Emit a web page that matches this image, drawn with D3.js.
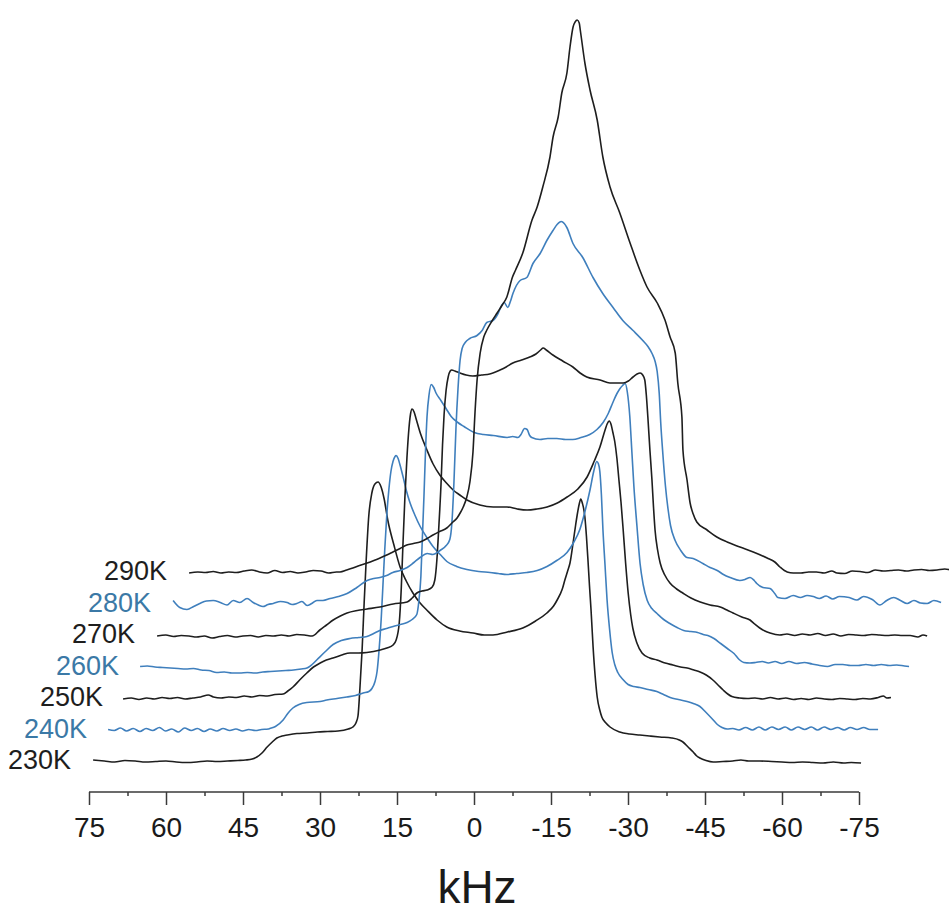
<!DOCTYPE html>
<html>
<head>
<meta charset="utf-8">
<script src="https://cdn.jsdelivr.net/npm/d3@7"></script>
<style>
  html, body { margin: 0; padding: 0; background: #fff; }
  svg { display: block; }
  text { font-family: "Liberation Sans", Arial, Helvetica, sans-serif; }
</style>
</head>
<body>
<svg id="chart" width="949" height="914"></svg>
<script>
// Temperature series (bottom to top) and their colours
const temps = ["230K", "240K", "250K", "260K", "270K", "280K", "290K"];
const colors = ["#1e1e1e", "#3f7fbd", "#1e1e1e", "#3f7fbd", "#1e1e1e", "#3f7fbd", "#1e1e1e"];
const labelColors = ["#1e1e1e", "#3b79a6", "#1e1e1e", "#3b79a6", "#1e1e1e", "#3b79a6", "#1e1e1e"];

// Axis tick values (kHz)
const majorTicks = [75, 60, 45, 30, 15, 0, -15, -30, -45, -60, -75];
const minorTicks = [67.5, 52.5, 37.5, 22.5, 7.5, -7.5, -22.5, -37.5, -52.5, -67.5];

// 2H NMR spectra: [frequency (kHz), intensity (a.u.)]
const s230 = [[74.2,1],[72,0],[70,-1],[68,0.5],[66,0],[64,-1],[62,-0.5],[60,0],[58,-1],[56,-1.5],[54,-1],[52,0],[50,-0.5],[48,0],[46,0.5],[44.5,1],[43.2,2],[42.3,4],[41.3,8],[40.3,14],[39.3,19],[38.4,23],[37.4,25],[36.4,26],[34.5,27.5],[32.5,28],[30.5,29],[28.5,29.5],[26.5,30],[24.5,32],[23.6,34],[23.0,38],[22.6,45],[22.2,75],[21.8,111],[21.4,158],[21.0,201],[20.5,245],[19.9,268],[19.3,277],[18.7,279],[18.1,274],[17.5,262],[16.8,241],[15.6,216],[14.4,194],[13.2,180],[11.9,168],[10.5,158],[9.2,151],[7.2,141],[5.3,134],[2.8,130],[0.2,128],[-2,126],[-3.7,126],[-6.5,129],[-9.5,133],[-12,140],[-14.2,148],[-15.5,155],[-16.2,161],[-17.2,172],[-17.7,181],[-18.3,191],[-18.7,198],[-19.3,218],[-19.8,236],[-20.1,246],[-20.5,257],[-20.8,262],[-21.1,258],[-21.6,244],[-21.9,225],[-22.2,201],[-22.5,175],[-22.8,151],[-23.2,114],[-23.6,85],[-24.0,64],[-24.5,51],[-24.9,44],[-25.7,38],[-26.5,34],[-28.4,29],[-30.3,27],[-32.3,26],[-34.2,25],[-36.2,24],[-38.5,23],[-40.0,21],[-40.7,19],[-41.7,14],[-42.7,9],[-43.4,5],[-44.0,3],[-45.2,0.5],[-46.6,-1],[-48.5,-0.5],[-50.4,0],[-52,1],[-53.5,0],[-55.7,0],[-58,-0.5],[-60,-1],[-62,-1.5],[-64,-1],[-66,-1.5],[-68,-2],[-70,-1],[-72,-2],[-73.5,-1.5],[-75.4,-2]];

const s240 = [[74.4,0],[73.2,-1],[72,1.5],[70.8,-1.5],[69.5,1],[68.2,-2],[67,1],[65.7,-1],[64.4,2],[63.2,-1.5],[62,0.5],[60.7,-2.5],[59.5,1.5],[58.2,-1],[57,1],[55.7,-2],[54.5,0.5],[53.2,-1.5],[52,1],[50.7,-1],[49.5,0.5],[48.2,-1.5],[47,0],[45.7,-1],[44.5,0],[43.2,0.5],[42.9,1],[41.8,3],[40.3,9.5],[39.4,16],[38.4,21.5],[37.2,25],[35.7,27],[33.1,28],[31.8,29.5],[29.8,31],[27.9,32.5],[26.2,34],[24.7,36.5],[23.6,38],[23.0,41],[22.4,48],[22.0,58],[21.6,80],[21.2,110],[20.8,150],[20.5,180],[20.1,215],[19.7,240],[19.3,258],[18.9,268],[18.5,273],[18.3,274],[17.9,271],[17.5,264],[16.9,252],[16.3,239],[15.6,227],[14.6,214],[13.6,203],[12.3,192],[11.1,183],[9.7,175],[8.4,168],[6.5,163],[4.5,160],[2.2,158],[0,157],[-1.6,156],[-3.3,155],[-5.2,156],[-7.2,157],[-9.2,159],[-11.1,163],[-13,169],[-15.0,177],[-16.3,187],[-17.5,200],[-18.5,218],[-19.5,240],[-20.2,258],[-20.8,268],[-21.1,266],[-21.4,258],[-21.7,235],[-22.0,200],[-22.4,165],[-22.8,130],[-23.3,100],[-23.8,77],[-24.3,65],[-24.9,57],[-25.9,50],[-26.9,45],[-28,43],[-29.2,42],[-30.8,40],[-32.5,38],[-33.8,35],[-35.1,32],[-36.7,30],[-38.4,28],[-39.6,26],[-40.9,23],[-42.1,17],[-43.4,10],[-44.3,5],[-45.2,2],[-46.2,0.5],[-47.3,1],[-48.5,-0.5],[-49.8,2],[-51.1,-0.5],[-52.4,2.5],[-53.6,-0.5],[-54.9,2.5],[-56.2,0],[-57.5,2.5],[-58.7,-0.5],[-60,2.5],[-61.3,0],[-62.6,2.5],[-63.8,-0.5],[-65.1,2.5],[-66.4,0],[-67.7,2],[-69,-0.5],[-70.2,2],[-71.5,0],[-72.8,2],[-74,0],[-75.6,0]];

const s250 = [[74.6,-1],[73,0],[71.5,-1.5],[70,0],[68.5,-1],[67,0.5],[65.5,-0.5],[64,0.5],[62.5,-1],[61,0],[59.5,1],[58,3],[57,1],[55.5,0],[54,1],[52.5,0.5],[51,2],[49.5,1],[48,2.5],[46.5,2],[45,3.5],[43.4,4],[42.5,7],[41.5,11],[40.2,18],[38.8,25],[37.5,31],[36.2,35],[35,38],[33.7,40],[32,43],[30.4,45],[28.7,45],[27.1,45.5],[25.8,46.5],[24.5,48],[23.2,50],[22.0,53],[21.4,58],[20.8,75],[20.4,110],[20.1,150],[19.7,200],[19.3,240],[18.9,270],[18.6,284],[18.3,289],[17.9,286],[17.5,279],[16.7,265],[15.4,248],[14.2,234],[12.9,223],[11.6,215],[10.3,208],[9,203],[7.6,198],[5.1,193],[2.5,191],[-0.2,191],[-2.2,189],[-4.1,188],[-6,189],[-8.0,191],[-10,195],[-11.9,201],[-14,209],[-15.8,221],[-17.2,237],[-18.3,251],[-19.3,268],[-19.7,274],[-20.1,277],[-20.5,273],[-20.8,266],[-21.2,256],[-21.6,240],[-22.0,218],[-22.4,196],[-22.8,170],[-23.3,135],[-23.8,105],[-24.3,83],[-24.7,70],[-25.5,55],[-26.5,45],[-28,40],[-29.4,38],[-31,35],[-32.5,33],[-34,31],[-35.3,30],[-36.6,28],[-37.8,26],[-39,23],[-40.3,18],[-41.3,13],[-42.3,8],[-43.2,4],[-44.0,1.5],[-45.5,0],[-47,-0.5],[-48.5,0],[-50,-1],[-51.5,0.5],[-53,-1],[-54.5,0],[-56,-1.5],[-57.5,-0.5],[-59,-1.5],[-60.5,0],[-62,-1],[-63.5,-1.5],[-65,-0.5],[-66.5,-1],[-68,-1.5],[-69.5,-0.5],[-71,-1],[-72.5,0.5],[-73.5,2],[-74.2,0],[-75,0.5]];

const s260 = [[74.4,0],[73,0.5],[71.5,-0.5],[70,-1],[68.5,-1.5],[67,-2],[65.5,-2.5],[64,-2],[62.5,-3.5],[61,-4],[59.5,-6],[58,-5.5],[56.5,-6.5],[55,-6.5],[53.5,-6],[52,-6.5],[50.5,-5.5],[49,-5],[47.5,-4.5],[46,-4],[44.5,-3.5],[43,-2.5],[41.9,-1.5],[40.9,2],[39.9,7],[38.3,15],[36.8,22],[35.2,26],[33.5,28],[31.8,29],[30.2,30],[28.9,33],[27.7,36],[26.4,38],[25.1,40],[23.7,42],[22.4,44],[21.4,47],[20.5,52],[20.1,65],[19.7,90],[19.4,130],[19.1,170],[18.8,215],[18.5,250],[18.1,272],[17.7,282],[17.2,279],[16.8,274],[15.8,266],[14.8,258],[13.8,250],[12.5,244],[11.3,240],[9.3,234],[7.5,232],[5.6,231],[2.9,229],[1.8,230],[0.8,229],[0.2,232],[-0.5,238],[-1.0,237],[-1.5,231],[-1.9,229],[-3.5,227],[-5,228],[-6.8,228],[-8.5,227],[-9.9,227],[-11.5,229],[-13.2,232],[-14.6,237],[-15.8,244],[-16.8,253],[-17.7,264],[-18.5,273],[-19.1,278],[-19.6,281],[-20.1,283],[-20.5,275],[-21.0,250],[-21.4,215],[-21.8,180],[-22.4,140],[-23.0,103],[-23.6,82],[-24.4,66],[-25.3,58],[-26.3,53],[-27.6,47],[-28.8,43],[-30.2,39],[-31.5,36],[-32.9,35],[-34.2,34],[-35.3,32],[-36.2,31],[-37.4,28],[-38.7,23],[-40.0,18],[-41.3,13],[-42.3,7],[-43.2,4],[-44.4,3.5],[-45.5,4],[-46.8,5],[-48,3.5],[-49.3,5],[-50.6,3],[-52,5],[-53.5,3],[-55,4],[-56.5,2.5],[-58,1],[-59.5,0],[-61,2],[-62.5,2],[-64,1],[-65.5,1],[-67,2],[-68.5,1],[-70,2],[-71.5,1],[-73,1.5],[-74.5,0.5],[-75.4,0]];

const s270 = [[74.2,-1],[72.5,0],[71,-1.5],[69.5,-0.5],[68,-1],[66.5,-2],[65,-1],[63.5,-3],[62,-1.5],[60.5,-0.5],[59,-2],[57.5,-1],[56,-0.5],[54.5,-2],[53,-0.5],[51.5,-1],[50,0],[48.5,-1],[47,0.5],[45.5,0],[44,-1],[42.5,5],[41.2,10],[39.9,15],[38.5,19],[37.2,22],[35.2,24.5],[33.3,26],[30.8,28],[28.2,31],[25.5,33],[24.5,37],[23.6,42],[22.6,44],[21.6,45],[20.6,48],[20.1,55],[19.7,75],[19.3,110],[18.9,150],[18.6,190],[18.3,220],[17.9,245],[17.5,258],[17.1,264],[16.8,265],[16.2,264],[15.2,262],[14,260],[12.7,259],[11,260],[9.4,261],[7.4,265],[6.2,268],[4.9,272],[3.2,275],[1.6,278],[0.4,281],[-0.5,285],[-1.0,287],[-1.6,285],[-2.9,280],[-4.8,274],[-6.8,268],[-8.2,262],[-9.5,258],[-12.1,255],[-14.0,252],[-16.6,252],[-17.6,254],[-18.5,258],[-19.3,261],[-19.9,262],[-20.4,260],[-20.8,255],[-21.1,240],[-21.4,218],[-21.8,185],[-22.2,155],[-22.5,128],[-22.8,105],[-23.3,85],[-23.8,72],[-24.7,60],[-25.7,52],[-27,46],[-28.2,42],[-29.8,37],[-31.6,33],[-33.5,30],[-35.5,28],[-36.8,25],[-38.0,22],[-39.7,18],[-41.3,15],[-42.2,11],[-43.2,7],[-44.2,4],[-45.2,2],[-47.1,0],[-48.5,1],[-50,-0.5],[-51.5,1],[-53,0],[-54.5,1.5],[-56,-0.5],[-57.5,1],[-59,-1],[-60.5,0.5],[-62,0],[-63.5,-0.5],[-65,0.5],[-66.5,0],[-68,-0.5],[-69.5,0],[-71,-0.5],[-72.5,-0.5],[-74,-2],[-75,0],[-75.8,-1]];

const s280 = [[74.2,3],[72.9,-4],[71.5,-6],[70.2,-3],[69.0,0],[67.7,2.5],[66.4,3],[65,1],[63.7,-1.5],[62.5,3],[61.2,1],[59.8,5],[58.6,1],[57.6,-1.5],[56.7,-3],[55.7,-1],[54.7,0],[53.3,2],[52.0,1],[51,-1],[50.1,0],[49.1,2],[48.1,-2],[47.2,0],[46.2,3],[45.0,3],[43.6,5],[42,7],[40.3,10],[38.4,16],[36.4,23],[35.1,25],[33.9,26],[32.6,28],[31.4,31],[30,33],[28.6,36],[27.3,41],[26.1,46],[24.7,50],[23.6,49],[22.2,53],[21.0,58],[20.3,64],[19.9,80],[19.5,120],[19.1,175],[18.7,215],[18.3,243],[17.9,255],[17.3,261],[16.4,265],[15.0,268],[14.0,273],[13.1,281],[11.9,283],[10.9,290],[10.2,298],[9.7,301],[9.0,296],[8.5,302],[8.0,310],[6.6,323],[5.3,326],[4.1,340],[2.7,350],[1.4,363],[0.2,373],[-0.6,379],[-1.4,382],[-2.0,380],[-2.5,376],[-3.7,360],[-5.6,346],[-7.6,326],[-9.5,310],[-11.5,296],[-13.4,283],[-15.4,273],[-17.3,263],[-18.3,257],[-19.1,250],[-19.7,242],[-20.1,232],[-20.5,210],[-20.8,180],[-21.2,150],[-21.7,118],[-22.2,95],[-22.7,78],[-23.6,63],[-24.7,53],[-25.9,46],[-27.1,45],[-29.0,40],[-30.4,36],[-31.8,33],[-33,29],[-34.3,26],[-36.2,23],[-37.2,24],[-38.2,26],[-39.0,23],[-39.5,20],[-40.7,16],[-42.1,15],[-43,10],[-43.6,6],[-45,5],[-46.6,8],[-48,6],[-49.3,8],[-50.5,7],[-51.7,5],[-53,7.5],[-54.3,4.5],[-55.6,7],[-57.5,6],[-59,3.5],[-60.3,7],[-62,4],[-63.5,-1.5],[-64.8,3],[-66.2,6],[-67.5,3],[-68.8,0],[-70.1,3],[-71.4,0.5],[-72.7,0],[-74,3],[-75.4,1]];

const s290 = [[74.2,-1],[72.5,0],[71,-0.5],[69.5,0.5],[68,-1],[66.5,0],[65,-0.5],[63.5,1],[62,2],[60.5,0],[59,-1],[57.5,1.5],[56,-0.5],[54.5,0.5],[53,-1],[51.5,0],[50,1.5],[48.5,1],[47,-1],[45.5,0],[44.8,0],[43.5,2],[42.3,4],[41,6.5],[39.5,9],[38.2,11.5],[37.0,14],[35.7,17],[34.5,20],[33.1,23.5],[31.8,27],[30.5,28.5],[29.2,30],[28,33],[26.7,37],[25.4,40.5],[24.0,44],[23,49],[22.0,54],[21.4,59],[20.8,65],[20.1,75],[19.5,90],[18.9,120],[18.5,160],[18.1,192],[17.5,219],[16.8,235],[16.2,242],[15.2,251],[14.2,259],[13.2,267],[12.3,275],[11.2,295],[10.6,302],[9.2,319],[7.4,352],[6.4,365],[5.3,385],[3.9,415],[3.3,435],[2.3,455],[1.6,479],[0.6,499],[0.0,525],[-0.6,545],[-1.0,550],[-1.4,552],[-1.8,549],[-2.0,542],[-2.9,509],[-3.9,482],[-5.3,452],[-6.4,415],[-7.8,385],[-9.7,359],[-11.7,329],[-13.6,302],[-15.0,285],[-17.0,269],[-18.5,252],[-19.5,235],[-20.5,219],[-21.0,189],[-21.8,155],[-22.0,122],[-22.8,92],[-23.4,69],[-24.0,58],[-24.7,50],[-26.7,42],[-28.6,35],[-30.6,30],[-33.1,25],[-35.7,20],[-38.4,14],[-39.9,10],[-40.9,5],[-42.3,0],[-43.5,-1],[-45,-1],[-46.5,0],[-48,0],[-49.5,-1],[-51,1],[-52,-1],[-53.5,-1.5],[-55,1],[-56.5,0.5],[-58,-0.5],[-59.5,2],[-61,1],[-62.5,1.5],[-64,2],[-65.5,1],[-67,2],[-68.5,2.5],[-70,1.5],[-71.5,2],[-73,3],[-74.5,2],[-75.4,2.5]];

const spectra = [s230, s240, s250, s260, s270, s280, s290];

// Layout
const width = 949, height = 914;
const axisY = 792;
const stepX = 16;     // horizontal shift per stacked trace (px)
const stepY = 31.5;   // vertical shift per stacked trace (px)

const svg = d3.select("#chart");

const x = d3.scaleLinear().domain([75, -75]).range([89, 859]);
const y = d3.scaleLinear().domain([0, 560]).range([761, 201]);

const line = d3.line()
  .x(d => x(d[0]))
  .y(d => y(d[1]))
  .curve(d3.curveMonotoneX);

const traces = svg.append("g").attr("class", "traces");

spectra.forEach((data, i) => {
  const g = traces.append("g")
    .attr("transform", `translate(${i * stepX},${-i * stepY})`);
  g.append("path")
    .datum(data)
    .attr("d", line)
    .attr("fill", "none")
    .attr("stroke", colors[i])
    .attr("stroke-width", 1.6)
    .attr("stroke-linejoin", "round");

  g.append("text")
    .attr("x", x(75) - 18)
    .attr("y", y(0) + 8)
    .attr("text-anchor", "end")
    .attr("font-size", 27)
    .attr("fill", labelColors[i])
    .text(temps[i]);
});

// Frequency axis
const axisColor = "#3a3a3a";
const axisMajor = d3.axisBottom(x)
  .tickValues(majorTicks)
  .tickSize(13)
  .tickPadding(12)
  .tickFormat(d => String(d));

const gAxis = svg.append("g")
  .attr("transform", `translate(0,${axisY})`)
  .call(axisMajor);
gAxis.select(".domain").attr("stroke", axisColor).attr("stroke-width", 1.5)
  .attr("d", `M${x(75)},0H${x(-75)}`);
gAxis.selectAll(".tick line").attr("stroke", axisColor).attr("stroke-width", 1.5);
gAxis.selectAll(".tick text")
  .attr("font-size", 28)
  .attr("font-family", "'Liberation Sans', Arial, sans-serif")
  .attr("fill", "#1a1a1a");

const axisMinor = d3.axisBottom(x)
  .tickValues(minorTicks)
  .tickSize(4)
  .tickFormat("");
const gMinor = svg.append("g")
  .attr("transform", `translate(0,${axisY})`)
  .call(axisMinor);
gMinor.select(".domain").remove();
gMinor.selectAll(".tick line").attr("stroke", axisColor).attr("stroke-width", 1.5);

// Axis title
svg.append("text")
  .attr("x", 477)
  .attr("y", 903)
  .attr("text-anchor", "middle")
  .attr("font-size", 46)
  .attr("fill", "#1a1a1a")
  .text("kHz");
</script>
</body>
</html>
